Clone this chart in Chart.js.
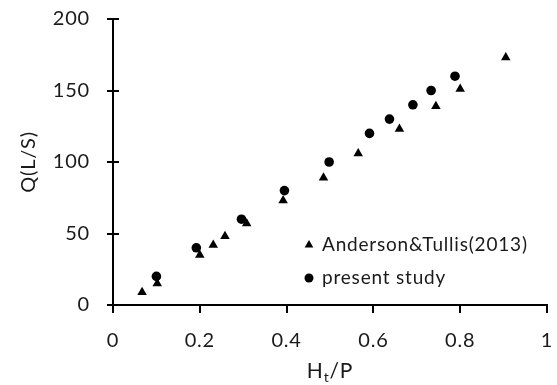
<!DOCTYPE html>
<html>
<head>
<meta charset="utf-8">
<script src="https://cdn.jsdelivr.net/npm/chart.js@4/dist/chart.umd.min.js"></script>
<style>
  html, body { margin: 0; padding: 0; background: #ffffff; }
  #wrap { width: 557px; height: 385px; position: relative; }
</style>
</head>
<body>
<div id="wrap"><canvas id="c" width="557" height="385"></canvas></div>
<script>
// ---- data ----
const andersonX = [0.067, 0.102, 0.200, 0.231, 0.258, 0.308, 0.392, 0.485, 0.565, 0.660, 0.744, 0.800, 0.905];
const andersonY = [9, 15, 35, 42, 48, 57, 73, 89, 106, 123, 139, 151, 173];
const presentX = [0.100, 0.192, 0.296, 0.395, 0.498, 0.591, 0.637, 0.691, 0.733, 0.788];
const presentY = [20, 40, 60, 80, 100, 120, 130, 140, 150, 160];
const seriesNames = ['Anderson&Tullis(2013)', 'present study'];
const xTicks = [0, 0.2, 0.4, 0.6, 0.8, 1];
const yTicks = [0, 50, 100, 150, 200];
const xTitleMain = 'H', xTitleSub = 't', xTitleRest = '/P';
const yTitle = 'Q(L/S)';

const FONT = 'Lato, "Open Sans", sans-serif';
const TEXT = '#1a1a1a';
const SPACING = '0.8px';

const toPts = (xs, ys) => xs.map((x, i) => ({ x: x, y: ys[i] }));

const spacing = {
  id: 'spacing',
  beforeInit(chart) { chart.ctx.letterSpacing = SPACING; },
  beforeLayout(chart) { chart.ctx.letterSpacing = SPACING; },
  beforeDraw(chart) { chart.ctx.letterSpacing = SPACING; }
};

const overlay = {
  id: 'overlay',
  afterDraw(chart) {
    const ctx = chart.ctx;
    const ca = chart.chartArea;
    const ys = chart.scales.y;
    ctx.save();
    ctx.letterSpacing = SPACING;
    // inner half of y ticks (ticks cross the axis)
    ctx.strokeStyle = '#000';
    ctx.lineWidth = 2;
    yTicks.forEach(v => {
      const py = Math.round(ys.getPixelForValue(v));
      ctx.beginPath();
      ctx.moveTo(ca.left, py);
      ctx.lineTo(ca.left + 6, py);
      ctx.stroke();
    });
    // y title
    ctx.fillStyle = TEXT;
    ctx.font = '20px ' + FONT;
    ctx.textAlign = 'center';
    ctx.textBaseline = 'middle';
    ctx.save();
    ctx.translate(29, (ca.top + ca.bottom) / 2);
    ctx.rotate(-Math.PI / 2);
    ctx.fillText(yTitle, 0, 0);
    ctx.restore();
    // x title with subscript
    const cx = (ca.left + ca.right) / 2;
    const by = 378;
    ctx.textBaseline = 'alphabetic';
    ctx.textAlign = 'left';
    const big = '21px ' + FONT, small = '14px ' + FONT;
    ctx.font = big; const w1 = ctx.measureText(xTitleMain).width;
    ctx.font = small; const w2 = ctx.measureText(xTitleSub).width;
    ctx.font = big; const w3 = ctx.measureText(xTitleRest).width;
    let sx = cx - (w1 + w2 + w3) / 2;
    ctx.font = big; ctx.fillText(xTitleMain, sx, by); sx += w1;
    ctx.font = small; ctx.fillText(xTitleSub, sx, by + 4); sx += w2;
    ctx.font = big; ctx.fillText(xTitleRest, sx, by);
    // legend inside plot
    const lx = 309, ly = [245, 278];
    chart.data.datasets.forEach((ds, i) => {
      ctx.fillStyle = '#000';
      ctx.beginPath();
      if (ds.pointStyle === 'triangle') {
        const r = 5;
        ctx.moveTo(lx, ly[i] - r);
        ctx.lineTo(lx + r * 0.866, ly[i] + r * 0.5);
        ctx.lineTo(lx - r * 0.866, ly[i] + r * 0.5);
        ctx.closePath();
      } else {
        ctx.arc(lx, ly[i], 4.5, 0, Math.PI * 2);
      }
      ctx.fill();
      ctx.fillStyle = TEXT;
      ctx.font = '19px ' + FONT;
      ctx.textBaseline = 'middle';
      ctx.textAlign = 'left';
      ctx.fillText(ds.label, 322, ly[i]);
    });
    ctx.restore();
  }
};

new Chart(document.getElementById('c'), {
  type: 'scatter',
  data: {
    datasets: [
      {
        label: seriesNames[0],
        data: toPts(andersonX, andersonY),
        pointStyle: 'triangle',
        pointRadius: 5.5,
        pointHoverRadius: 5.5,
        backgroundColor: '#000',
        borderColor: '#000',
        borderWidth: 0
      },
      {
        label: seriesNames[1],
        data: toPts(presentX, presentY),
        pointStyle: 'circle',
        pointRadius: 4.8,
        pointHoverRadius: 4.8,
        backgroundColor: '#000',
        borderColor: '#000',
        borderWidth: 0
      }
    ]
  },
  options: {
    responsive: false,
    animation: false,
    devicePixelRatio: 1,
    layout: { padding: { top: 19, right: 10, left: 0, bottom: 0 } },
    plugins: { legend: { display: false }, tooltip: { enabled: false } },
    scales: {
      x: {
        type: 'linear',
        min: 0, max: 1,
        afterBuildTicks: s => { s.ticks = xTicks.map(v => ({ value: v })); },
        afterFit: s => { s.height = 80; s.paddingLeft = 0; s.paddingRight = 0; },
        grid: { display: true, drawOnChartArea: false, drawTicks: true, tickLength: 8, color: '#000', lineWidth: 2 },
        border: { display: true, color: '#000', width: 2 },
        ticks: { color: TEXT, font: { family: FONT, size: 20 }, padding: 16, maxRotation: 0, callback: v => String(v) }
      },
      y: {
        type: 'linear',
        min: 0, max: 200,
        afterBuildTicks: s => { s.ticks = yTicks.map(v => ({ value: v })); },
        afterFit: s => { s.width = 113; s.paddingTop = 0; s.paddingBottom = 0; },
        grid: { display: true, drawOnChartArea: false, drawTicks: true, tickLength: 6, color: '#000', lineWidth: 2 },
        border: { display: true, color: '#000', width: 2 },
        ticks: { color: TEXT, font: { family: FONT, size: 20 }, padding: 17, callback: v => String(v) }
      }
    }
  },
  plugins: [spacing, overlay]
});
</script>
</body>
</html>
